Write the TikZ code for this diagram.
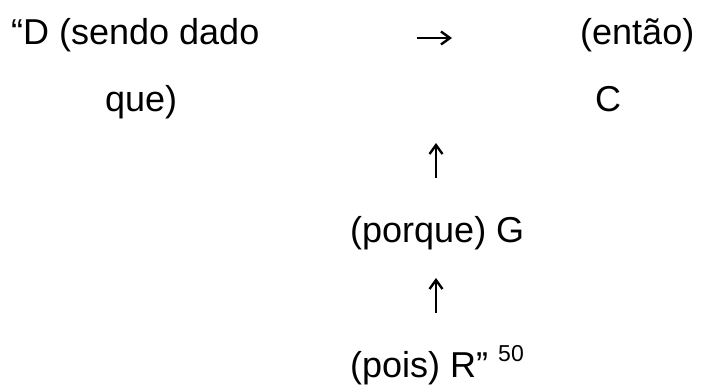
\documentclass[tikz,border=0pt]{standalone}
\usepackage{fontspec}
\setmainfont{Liberation Sans}
\usetikzlibrary{arrows.meta}
\begin{document}
\begin{tikzpicture}[x=1pt,y=1pt,
  lbl/.style={inner sep=0pt,anchor=base west,font=\fontsize{36}{43}\selectfont},
  conn/.style={line width=2.4pt,-{Straight Barb[length=9pt,width=13pt,line width=2.4pt]}}]
\useasboundingbox (0,0) rectangle (703,388);
\node[lbl] (D) at (11,343) {“D (sendo dado};
\node[lbl] (que) at (105,276.5) {que)};
\node[lbl] (entao) at (580,343) {(então)};
\node[lbl] (C) at (595,276.5) {C};
\node[lbl] (G) at (350,145) {(porque) G};
\node[lbl] (R) at (350,11) {(pois) R” \raisebox{15.5pt}{\fontsize{23}{26}\selectfont 50}};
\coordinate (a1s) at (417,350);
\coordinate (a1e) at (452,350);
\coordinate (a2s) at (436,210);
\coordinate (a2e) at (436,245);
\coordinate (a3s) at (436,75);
\coordinate (a3e) at (436,110);
\draw[conn] (a1s) -- (a1e);
\draw[conn] (a2s) -- (a2e);
\draw[conn] (a3s) -- (a3e);
\end{tikzpicture}
\end{document}
